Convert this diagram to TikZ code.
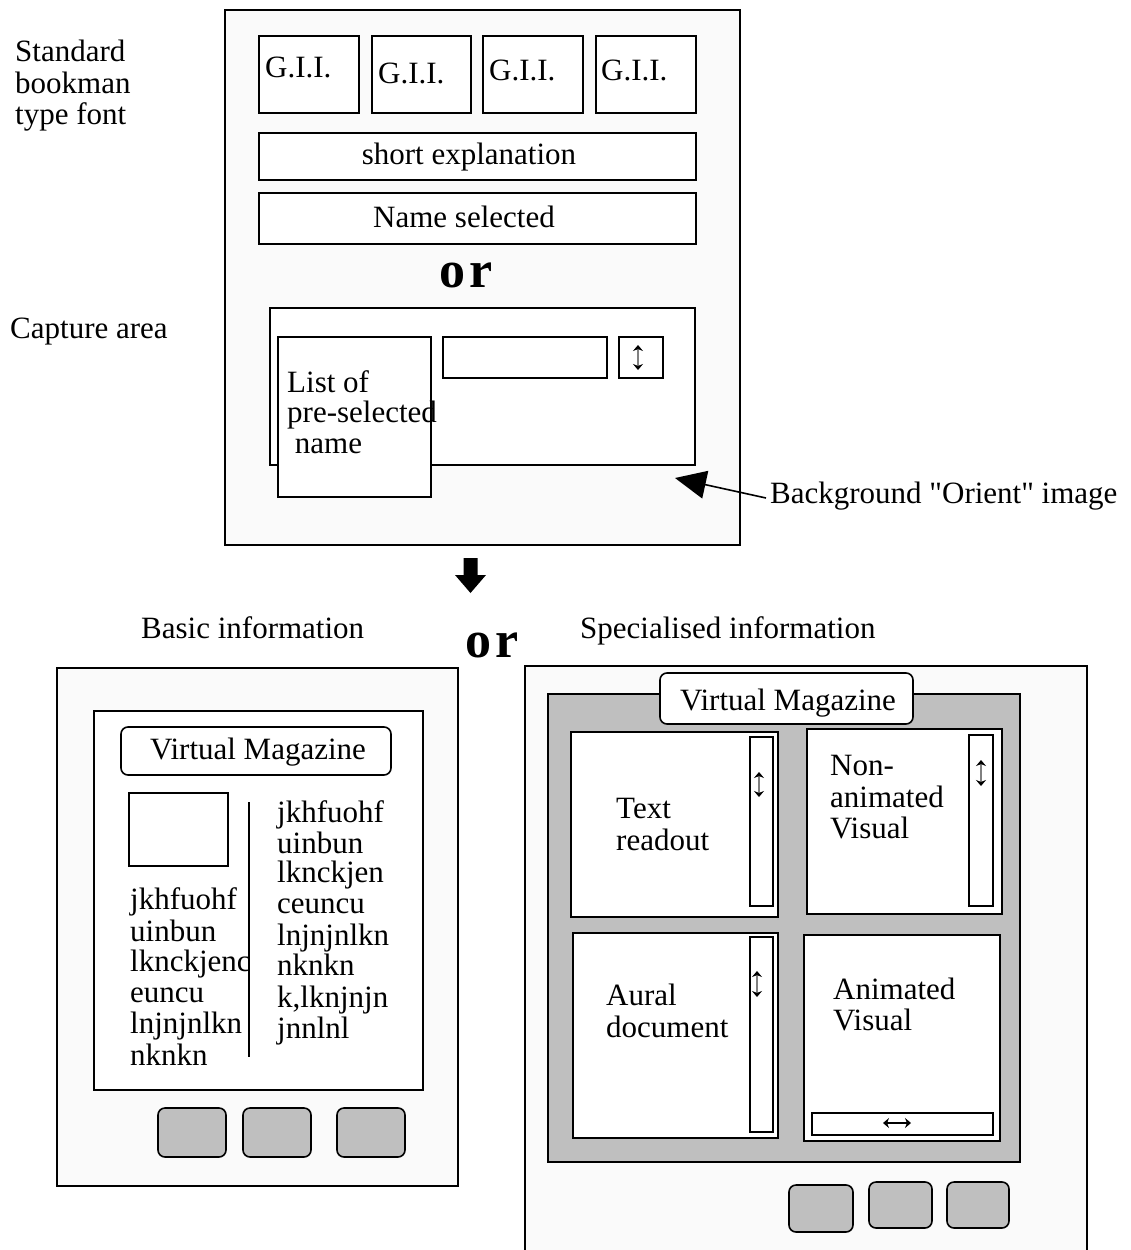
\documentclass[tikz,border=0pt]{standalone}
\usepackage{fontspec}
\setmainfont{Liberation Serif}[Ligatures=TeXOff]
\usetikzlibrary{arrows.meta}
\definecolor{framefill}{HTML}{FAFAFA}
\definecolor{panelgray}{HTML}{BFBFBF}
\newcommand\bx[6]{\node[#2, anchor=north west, inner sep=0pt, outer sep=0pt, minimum width={(#5-#3)*1pt}, minimum height={(#6-#4)*1pt}] (#1) at (#3,#4) {};}
\begin{document}
\begin{tikzpicture}[x=1pt,y=-1pt,
  frame/.style={draw=black, line width=1.6pt, fill=framefill},
  wbox/.style={draw=black, line width=1.6pt, fill=white},
  rbox/.style={wbox, rounded corners=7pt},
  gbox/.style={draw=black, line width=1.6pt, fill=panelgray},
  btn/.style={gbox, rounded corners=7pt},
  sbar/.style={draw=black, line width=2.2pt, fill=white},
  txt/.style={font=\fontsize{31}{31}\selectfont, inner sep=0pt, anchor=base west},
  ctxt/.style={txt, anchor=base},
  bigor/.style={font=\bfseries\fontsize{52}{52}\selectfont, inner sep=0pt, anchor=base west},
  varrow/.style={draw=gray, line width=1.2pt, {Stealth[black,length=6pt,width=10pt]}-{Stealth[black,length=6pt,width=10pt]}},
  harrow/.style={draw=black, line width=1.2pt, {Stealth[black,length=6pt,width=10pt]}-{Stealth[black,length=6pt,width=10pt]}}
]
\useasboundingbox (0,0) rectangle (1131,1250);

% ---------- left labels ----------
\node[txt] (std1) at (15,61) {Standard};
\node[txt] (std2) at (15,93) {bookman};
\node[txt] (std3) at (15,124) {type font};
\node[txt] (capt) at (10,338) {Capture area};

% ---------- top frame ----------
\bx{topframe}{frame}{225}{10}{740}{545}
\bx{gii1}{wbox}{259}{36}{359}{113}
\bx{gii2}{wbox}{372}{36}{471}{113}
\bx{gii3}{wbox}{483}{36}{583}{113}
\bx{gii4}{wbox}{596}{36}{696}{113}
\node[txt] (giit1) at (265,77) {G.I.I.};
\node[txt] (giit2) at (378,83) {G.I.I.};
\node[txt] (giit3) at (489,80) {G.I.I.};
\node[txt] (giit4) at (601,80) {G.I.I.};
\bx{expl}{wbox}{259}{133}{696}{180}
\node[ctxt] (explt) at (469,164) {short explanation};
\bx{namesel}{wbox}{259}{193}{696}{244}
\node[ctxt] (nameselt) at (464,227) {Name selected};
\node[bigor] (or1) at (439,287) {o\kern4pt r};

\bx{capture}{wbox}{270}{308}{695}{465}
\bx{listbox}{wbox}{278}{337}{431}{497}
\bx{field}{wbox}{443}{337}{607}{378}
\bx{spin}{wbox}{619}{337}{663}{378}
\coordinate (spinA) at (638,345);
\coordinate (spinB) at (638,370);
\draw[varrow] (spinA) -- (spinB);
\node[txt] (list1) at (287,392) {List of};
\node[txt] (list2) at (287,422) {pre-selected};
\node[txt] (list3) at (287,453) {\ name};

% ---------- background pointer ----------
\node[txt] (bglabel) at (770,503) {Background "Orient" image};
\coordinate (bgstart) at (766,498);
\coordinate (bgtip) at (675,478);
\draw[line width=1.6pt, -{Triangle[length=31pt,width=28pt]}] (bgstart) -- (bgtip);

% ---------- down arrow ----------
\coordinate (da1) at (463.5,558);
\coordinate (da2) at (477.5,558);
\coordinate (da3) at (477.5,575);
\coordinate (da4) at (486,575);
\coordinate (da5) at (470.5,593);
\coordinate (da6) at (455,575);
\coordinate (da7) at (463.5,575);
\fill[black] (da1) -- (da2) -- (da3) -- (da4) -- (da5) -- (da6) -- (da7) -- cycle;

% ---------- headings ----------
\node[txt] (basic) at (141,638) {Basic information};
\node[txt] (spec) at (580,638) {Specialised information};
\node[bigor] (or2) at (465,657) {o\kern4pt r};

% ---------- bottom left: basic ----------
\bx{leftframe}{frame}{57}{668}{458}{1186}
\bx{leftinner}{wbox}{94}{711}{423}{1090}
\bx{vmleft}{rbox}{121}{727}{391}{775}
\node[ctxt] (vmleftt) at (258,759) {Virtual Magazine};
\bx{pic}{wbox}{129}{793}{228}{866}
\coordinate (colA) at (249,802);
\coordinate (colB) at (249,1057);
\draw[line width=1.8pt] (colA) -- (colB);
\node[txt] (la1) at (130,909) {jkhfuohf};
\node[txt] (la2) at (130,941) {uinbun};
\node[txt] (la3) at (130,971) {lknckjenc};
\node[txt] (la4) at (130,1002) {euncu};
\node[txt] (la5) at (130,1033) {lnjnjnlkn};
\node[txt] (la6) at (130,1065) {nknkn};
\node[txt] (ra1) at (277,822) {jkhfuohf};
\node[txt] (ra2) at (277,853) {uinbun};
\node[txt] (ra3) at (277,882) {lknckjen};
\node[txt] (ra4) at (277,913) {ceuncu};
\node[txt] (ra5) at (277,945) {lnjnjnlkn};
\node[txt] (ra6) at (277,975) {nknkn};
\node[txt] (ra7) at (277,1007) {k,lknjnjn};
\node[txt] (ra8) at (277,1038) {jnnlnl};
\bx{lb1}{btn}{158}{1108}{226}{1157}
\bx{lb2}{btn}{243}{1108}{311}{1157}
\bx{lb3}{btn}{337}{1108}{405}{1157}

% ---------- bottom right: specialised ----------
\fill[framefill] (525,666) rectangle (1087,1252);
\draw[line width=1.6pt] (525,1252) -- (525,666) -- (1087,666) -- (1087,1252);
\bx{grayarea}{gbox}{548}{694}{1020}{1162}
\bx{vmright}{rbox}{660}{673}{913}{724}
\node[ctxt] (vmrightt) at (788,710) {Virtual Magazine};

\bx{textro}{wbox}{571}{732}{778}{917}
\bx{textsb}{sbar}{750}{737}{773}{906}
\coordinate (tsA) at (759,772);
\coordinate (tsB) at (759,797);
\draw[varrow] (tsA) -- (tsB);
\node[txt] (textro1) at (616,818) {Text};
\node[txt] (textro2) at (616,850) {readout};

\bx{nonanim}{wbox}{807}{729}{1002}{914}
\bx{nonsb}{sbar}{969}{735}{993}{906}
\coordinate (nsA) at (981,760);
\coordinate (nsB) at (981,786);
\draw[varrow] (nsA) -- (nsB);
\node[txt] (non1) at (830,775) {Non-};
\node[txt] (non2) at (830,807) {animated};
\node[txt] (non3) at (830,838) {Visual};

\bx{aural}{wbox}{573}{933}{778}{1138}
\bx{auralsb}{sbar}{750}{937}{773}{1132}
\coordinate (asA) at (757,971);
\coordinate (asB) at (757,997);
\draw[varrow] (asA) -- (asB);
\node[txt] (aur1) at (606,1005) {Aural};
\node[txt] (aur2) at (606,1037) {document};

\bx{anim}{wbox}{804}{935}{1000}{1141}
\bx{animsb}{sbar}{812}{1113}{993}{1135}
\coordinate (hsA) at (883,1123);
\coordinate (hsB) at (911,1123);
\draw[harrow] (hsA) -- (hsB);
\node[txt] (anim1) at (833,999) {Animated};
\node[txt] (anim2) at (833,1030) {Visual};

\bx{rb1}{btn}{789}{1185}{853}{1232}
\bx{rb2}{btn}{869}{1182}{932}{1228}
\bx{rb3}{btn}{947}{1182}{1009}{1228}
\end{tikzpicture}
\end{document}
